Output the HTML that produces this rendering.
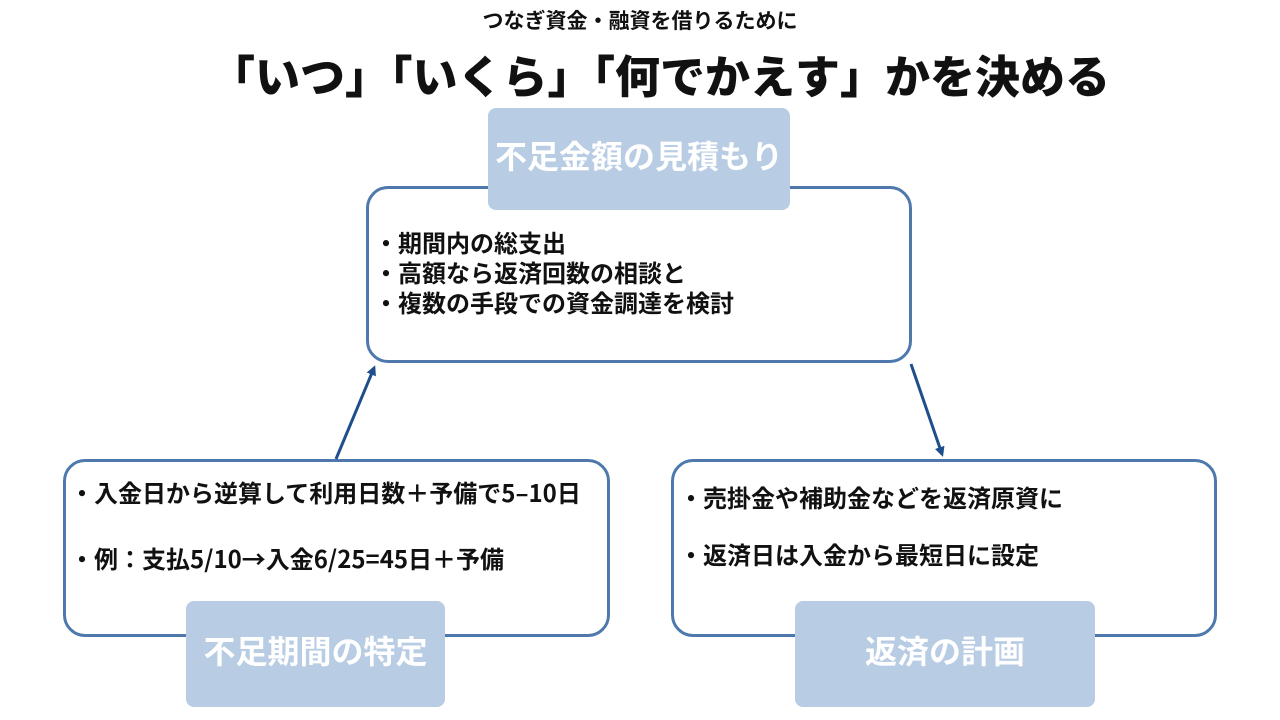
<!DOCTYPE html>
<html><head><meta charset="utf-8"><style>
body{margin:0;width:1280px;height:720px;background:#fff;position:relative;overflow:hidden;font-family:"Noto Sans CJK JP","Liberation Sans",sans-serif;font-weight:bold;color:#111}
.a{position:absolute}
.box{position:absolute;border:3px solid #4f79ad;border-radius:22px;background:#fff;box-sizing:border-box}
.lab{position:absolute;background:#b8cce4;border-radius:8px;color:#fff;font-size:32px;display:flex;align-items:center;justify-content:center;padding-bottom:8px;box-sizing:border-box}
.t{position:absolute;font-size:24px;white-space:nowrap;line-height:1}
</style></head><body>
<div class="t" style="left:0;width:1280px;text-align:center;top:10px;font-size:21px">つなぎ資金・融資を借りるために</div>
<div class="t" style="left:20px;width:1280px;text-align:center;top:51px;font-size:45px;font-weight:900">「いつ」「いくら」「何でかえす」かを決める</div>

<div class="box" style="left:366px;top:186px;width:546px;height:177px"></div>
<div class="lab" style="left:488px;top:108px;width:302px;height:102px">不足金額の見積もり</div>
<div class="t" style="left:374px;top:227px;line-height:30px">・期間内の総支出<br>・高額なら返済回数の相談と<br>・複数の手段での資金調達を検討</div>

<div class="box" style="left:63px;top:459px;width:547px;height:178px"></div>
<div class="lab" style="left:186px;top:601px;width:259px;height:106px">不足期間の特定</div>
<div class="t" style="left:70px;top:480px">・入金日から逆算して利用日数＋予備で5–10日</div>
<div class="t" style="left:70px;top:546px">・例：支払5/10→入金6/25=45日＋予備</div>

<div class="box" style="left:671px;top:459px;width:546px;height:178px"></div>
<div class="lab" style="left:795px;top:601px;width:300px;height:106px">返済の計画</div>
<div class="t" style="left:679px;top:485px">・売掛金や補助金などを返済原資に</div>
<div class="t" style="left:679px;top:542px">・返済日は入金から最短日に設定</div>

<svg class="a" style="left:0;top:0" width="1280" height="720">
<defs><marker id="m" markerWidth="10" markerHeight="10" refX="7" refY="5" orient="auto" markerUnits="userSpaceOnUse"><path d="M0,0 L10,5 L0,10 z" fill="#1f4e8c"/></marker></defs>
<line x1="336" y1="459" x2="374" y2="368" stroke="#1f4e8c" stroke-width="3" marker-end="url(#m)"/>
<line x1="911" y1="364" x2="942" y2="454" stroke="#1f4e8c" stroke-width="3" marker-end="url(#m)"/>
</svg>
</body></html>
